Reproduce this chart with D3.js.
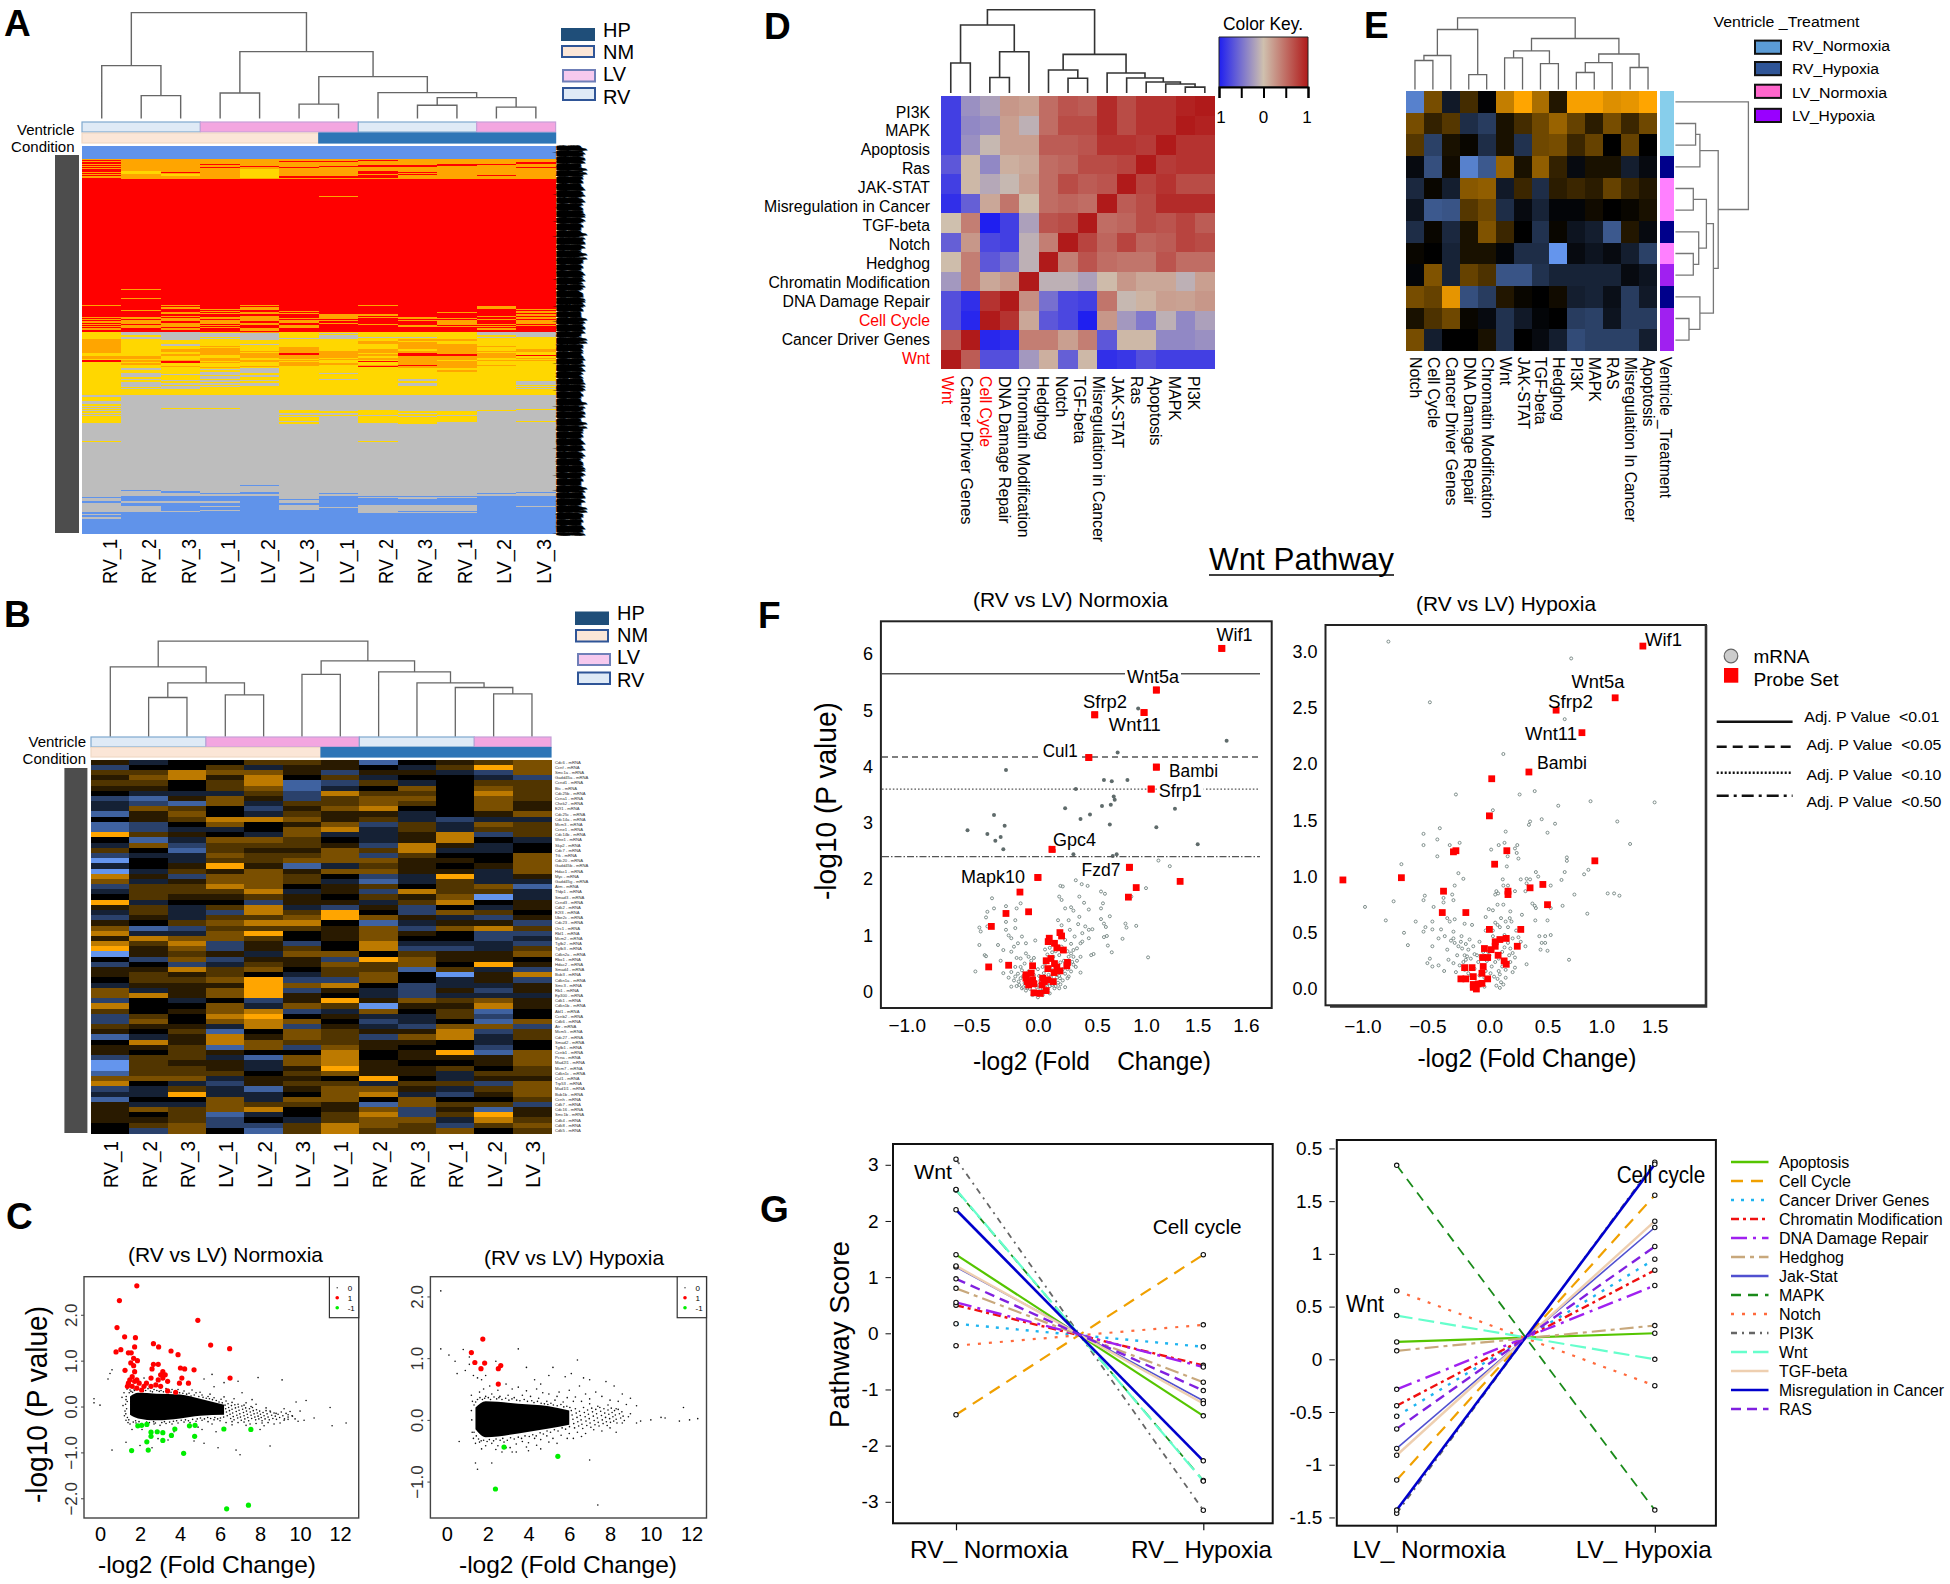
<!DOCTYPE html>
<html><head><meta charset="utf-8">
<style>html,body{margin:0;background:#fff}svg{display:block}text{font-family:"Liberation Sans",Arial,sans-serif;white-space:pre}</style>
<script src="https://cdn.jsdelivr.net/npm/d3@7/dist/d3.min.js"></script></head><body>
<script>
/* ---------- DATA ---------- */
const samples=["RV_1","RV_2","RV_3","LV_1","LV_2","LV_3","LV_1","RV_2","RV_3","RV_1","LV_2","LV_3"];
const ventricleRuns=[["RV",3],["LV",4],["RV",3],["LV",2]];
const conditionRuns=[["NM",6],["HP",6]];
const treeA=[106,[53,0,[23,1,2]],[67,[25.6,3,4],[42,[14.5,5,6],[26,7,[21,[13.4,8,9],[11.5,10,11]]]]]];
const treeB=[95.7,[70,0,[54,[39.3,1,2],[42,3,4]]],[76,[62.5,5,6],[65,7,[54,8,[49.3,9,[43,10,11]]]]]];
/* panel A rows: [repeat, class per sample] B blue G grey Y yellow O orange R red */
const rowsA=[[11,"BBBBBBBBBBBB"],
[1,"OOOOOOOOOOOO"],[1,"ROOOOOOROOOO"],[1,"OOOOORROOOOO"],[1,"ROOOOOOOOOOR"],[1,"OOOROOOOORRO"],[1,"ROOOOOORRROO"],[1,"OOOORORRROOO"],[1,"ROOROROOOOOR"],[1,"OOOOOOOOOOOO"],[1,"ROOOYOOOOOOO"],[1,"RYOOYOOROOOO"],[1,"OYROYOORROOO"],[1,"RYOOYOOROOOO"],[1,"OOYOYOOOROOO"],[1,"ROYOYOOROORO"],[1,"OOOOYRRROOOO"],[1,"ROOOOOOOOOOO"],
[15,"RRRRRRRRRRRR"],[1,"RRRRRRORRRRR"],[78,"RRRRRRRRRRRR"],[1,"RORRRRRRRRRR"],[7,"RRRRRRRRRRRR"],[1,"RORRRRRRRRRR"],[5,"RRRRRRRRRRRR"],
[1,"ORORORRORRRR"],[1,"RRRRRRRRRROR"],[1,"RRORORRRRROR"],[1,"RRROORRRRRRO"],[1,"RORRRRRRRRRR"],[1,"RRRORORRRRRO"],[1,"RRORORRRRORO"],[1,"RROOOORRRRRR"],[1,"RRRRRROORRRO"],[1,"RRORORORRROR"],[1,"OOROOROOORRO"],[1,"ROOOOOOROORO"],[1,"ORORORRRRROR"],[1,"ROOOOOOROORO"],[1,"OORORORRRORO"],[1,"ROOOORORRORO"],[1,"ORORORROROOR"],[1,"ROOORORRORRO"],[1,"OOORRORROOOR"],[1,"RORORORRRRRR"],[1,"ORORORRRRROR"],[1,"RRRRORRRRRRR"],[1,"RRRRRRRRRRRR"],
[1,"YGGYOYYYYYGG"],[1,"YGGGGYGYYYGG"],[1,"YGGGGYYYYYGG"],[1,"YYGGGYGYYYYG"],[1,"YGGYGYGGGYGY"],[1,"YGGGGGGYYYYY"],[1,"OYGYGYYYOOYY"],[1,"OYYYYYYYOOYY"],[1,"OYYYYYYOYYYY"],[1,"OYYYYYYOOYYY"],[1,"OYGYGYYYOOYY"],[1,"OYGYYYYYOOYY"],[1,"OYYOYYYYOOOY"],[1,"OYYYYOYYOOYY"],[1,"OYYOYOYYOOYY"],[1,"OYOOYOYOYOYO"],[1,"OYOOOOOOOOOO"],[1,"OYYOYOOOOOYY"],[1,"YYYOOROYROOY"],[1,"YYOOOROORROY"],[1,"YYOYOOOORROR"],[1,"OOYYOOOYOOOY"],[1,"OOYOYOYOOOYO"],[1,"YYYOYYOOOOYY"],[1,"ROOOOOYYOYOO"],[1,"RORYOYYROOYY"],[1,"YYROYOYYOOYY"],[1,"YOYYYOOYOOYY"],[1,"YYYYYOYOROOY"],[1,"YYOYOYYROOYY"],[1,"YYYOYYYYOOYY"],[1,"YGYYGYYYYYYY"],[1,"YGYGGYYYYYYY"],
[1,"YYYYGYYYYOYY"],[1,"YYYGGYYYYYYY"],[1,"YGYGYYGYYYYY"],[1,"YGGGYYYYYYYY"],[1,"YGYYGYYYYYYY"],[1,"YGYGGYYYYYYY"],[1,"YYYGYYYYYYYY"],[1,"YGYYYYGYGYYY"],[1,"YYGGGYYYGYYY"],[1,"YYYGYYYYYYYG"],[1,"YGYYYYYYYYYG"],[1,"YGGGGYYYGYYG"],[1,"YGYYGYYYGYYY"],[1,"YGGGYYYYYYYG"],[1,"YYGYYYYYYYYY"],[1,"YGGYYYYYYYYG"],[5,"YYYYYYYYYYYY"],
[2,"GGGGGGGGGGGG"],[3,"YGGGGGGGGGGG"],[3,"GGGGGGGGGGGG"],[1,"YGGGGGGGGGGG"],[1,"GGGGGGGGGGGG"],[1,"YGGGGGGGGGGG"],[1,"GGYYGGGGGGGG"],[1,"YGGGGGGGGGGY"],[1,"GGGGGYGYGGYG"],[1,"YGGGGYYYYYGG"],[1,"GGGGGGGYGYGG"],[1,"YGGGGGGYYYGG"],[1,"GGGGGYYGYGGG"],[1,"YGGGGGGYGYGG"],[1,"YGGGGYGYYYGG"],[2,"YGGGGYGYYYGG"],[1,"YGGGGGGYYYGY"],[1,"YGGGGYGYYGGG"],[1,"GGGGGYGGYGGG"],[3,"GGGGGGGGGGGG"],
[11,"GGGGGGGGGGGG"],[1,"YGGGGGGYGGGG"],[37,"GGGGGGGGGGGG"],[1,"GGGGBGGGGGGG"],[3,"GGGGGGGGGGGG"],[1,"GBGGGGGGGGGG"],[1,"GGBGGGGGGGGG"],[1,"GGBGBGGGGGGB"],[1,"GGGBBGBGGGBG"],
[1,"GGGGGGGGGGGG"],[1,"GBBBBGBBBBBB"],[1,"BBBBBGBGGGBB"],[1,"GBBBBGBBGBBB"],[1,"GBBBBBBBBBBB"],[1,"GBBBBGBBBBBB"],[1,"BGGGBGBBBBBB"],[2,"GBBBBBBBBBBB"],[1,"GBBBBGBGGGBB"],[1,"GGBGBGBGGGBG"],[1,"GGBBBGGGGGBB"],[1,"GGBBBGBGGGBB"],[1,"GGBGBBBGGGBB"],[1,"GGGBBBBGBBBB"],[1,"BBBBBBBGGGBB"],[1,"BBBBBBBBBBBB"],[1,"GBBBBBBBBBBB"],[1,"BBBBBBBBBBBB"],[1,"GBBBBBBBBBBB"],[1,"GBBBBBBBBBBB"],[12,"BBBBBBBBBBBB"]];
const classColors={B:"#6093ea",G:"#bdbdbd",Y:"#ffd700",O:"#ffa500",R:"#ff0000"};
/* panel B: expression level of each gene per sample, 0 = lowest, 4 = mid, 9 = highest */
const expressionB=["534466514567","244635543697","668775255327","578584634432","664681263466","554671347476","433362866486","215752677476","321736676475","376425784475","157436553457","456887563233","124745726376","123347836366","965437335826","413776435843","372666528534","641655768334","233766726447","043667775547","345951365457","036575775537","852776423935","735776313633","266874564671","366683528663","465565465703","934425536845","563683252435","363286942764","253667975325","546788413552","712666572786","833794575422","587764574423","868252483332","957256482236","056537746557","427255297554","242365767495","558674661632","565643674058","466792274352","355597842335","735792532525","785795432333","243425957675","844737605585","645782374614","264894533624","274787423417","655382532772","546147655826","135857627836","485876655434","556172754424","546544845917","266317845557","065537854457","066535955646","166646755366","777355494355","843256636627","236315775367","339334783257","144737747446","533766517662","576784572515","546134682695","556243677386","467226876267","427416866746"];
const genesB=["Cdc6","Ccnf","Smc1a","Gadd45a","Ccnd1","Btc","Cdc25b","Ccna1","Chek2","E2f1","Cdc25c","Cdc14a","Mcm3","Ccne1","Cdc14b","Wee1","Skp2","Cdc7","Ttk","Cdc20","Gadd45b","Hdac1","Myc","Gadd45g","Atm","Tfdp1","Smad3","Ccnd3","Cdk2","E2f3","Ube2c","Cdc23","Orc1","Rbl1","Mcm2","Tgfb2","Tgfb3","Cdkn2a","Rbx1","Hdac2","Smad4","Bub3","Cdkn1a","Smc3","Rb1","Ep300","Cdk1","Cdkn1b","Abl1","Ccnb2","Cdk6","Atr","Mcm5","Cdc27","Smad2","Tgfb1","Ccnb1","Pcna","Mad2l1","Mcm7","Cdkn1c","Cul1","Trp53","Mad1l1","Bub1b","Ccnh","Cdk7","Cdc16","Smc1b","Cdk4","Cdk8","Cdk5"];
const orderD=["Wnt","Cancer Driver Genes","Cell Cycle","DNA Damage Repair","Chromatin Modification","Hedghog","Notch","TGF-beta","Misregulation in Cancer","JAK-STAT","Ras","Apoptosis","MAPK","PI3K"];
const rowsD=["PI3K","MAPK","Apoptosis","Ras","JAK-STAT","Misregulation in Cancer","TGF-beta","Notch","Hedghog","Chromatin Modification","DNA Damage Repair","Cell Cycle","Cancer Driver Genes","Wnt"];
const corrD=[[-.8,-.3,-.2,.25,.2,.5,.65,.6,.9,.7,.85,.85,.95,1],[-.8,-.35,-.3,.2,-.1,.5,.7,.7,.9,.7,.85,.85,1,.95],[-.8,-.3,-.05,.2,.2,.6,.6,.65,.85,.85,.8,1,.85,.85],[-.65,.05,-.35,.1,.15,.5,.55,.7,.7,.75,1,.8,.85,.85],[-.8,.05,-.15,-.05,.2,.5,.7,.6,.65,1,.75,.85,.7,.7],[-.9,-.6,.15,.45,.02,.5,.55,.5,1,.6,.7,.9,.9,.9],[0,.4,-1,-.8,-.2,.65,.7,1,.5,.55,.7,.65,.75,.6],[-.6,.25,-.75,-.8,-.1,.4,1,.75,.55,.75,.55,.6,.75,.7],[.02,.4,-.65,-.5,-.1,1,.4,.65,.5,.45,.45,.65,.5,.5],[-.25,.4,.15,.25,1,-.1,-.1,-.2,.03,.25,.15,.15,-.1,.2],[-.7,-.9,.85,1,.3,-.5,-.75,-.8,.45,-.05,.08,.2,.18,.25],[-.7,-.95,1,.85,.15,-.65,-.75,-1,.25,-.25,-.45,-.1,-.35,-.2],[.6,1,-.95,-.9,.4,.4,.2,.4,-.65,.05,.05,-.35,-.35,-.3],[1,.6,-.7,-.7,-.25,.1,-.6,.05,-.9,-.85,-.7,-.8,-.8,-.8]];
const treeD=[83.3,[68,[30,0,1],[41.3,[15.5,2,3],4]],[38.6,[23,5,[14.8,6,7]],[20,8,[15,9,[11,10,[9,11,[5.9,12,13]]]]]]];
const colsE=["Notch","Cell Cycle","Cancer Driver Genes","DNA Damage Repair","Chromatin Modification","Wnt","JAK-STAT","TGF-beta","Hedghog","PI3K","MAPK","RAS","Misregulation In Cancer","Apoptosis"];
const scoreE=[[-2.6,1.4,-.5,.8,-.05,2.3,3,2,.4,2.9,2.9,2.6,2.7,3],[1.4,.6,1,-.9,-1.2,.3,.8,1.3,1.8,1.2,.5,1.4,.7,1.3],[1,-1.3,.3,.1,-.9,.3,-1,1.3,1.4,.7,1.2,0,1.2,0],[-.2,-1.6,.2,-2.6,-1.8,1.8,.3,1.7,.6,-.2,.3,.3,-.6,-.2],[-.8,.1,-.6,1.6,1.7,-.5,.7,-.9,.5,.7,.5,1.2,.7,.4],[-.4,-1.8,-1.7,1,1.3,-.9,-.2,-.7,-.1,-.1,.2,0,.1,.3],[-.9,.1,-.8,.3,1.5,.7,0,-1,.1,-.4,-.6,-1.8,.4,-.2],[.1,0,-.7,.3,.3,-.1,-.9,-.9,-3,-.2,-.4,-.2,-.6,-1.3],[-.1,1.5,-.7,1.2,.9,-1.7,-1.7,-1,-.7,-.7,-.7,-.7,-.2,-.4],[1.4,1.2,2.7,-1.6,-1.2,.4,.1,0,.2,-.6,-.7,-.3,-1.2,-.5],[.3,.9,1.3,.1,-.2,-1,-.5,-.1,0,-1.2,-1.3,-.4,-1.2,-1.2],[1.4,-.6,0,0,.3,-1,0,-.2,-.6,-1.5,-1.3,-1.3,-1.3,-.6]];
const treatmentE=["RV_Normoxia","RV_Normoxia","RV_Normoxia","RV_Hypoxia","LV_Normoxia","LV_Normoxia","RV_Hypoxia","LV_Normoxia","LV_Hypoxia","RV_Hypoxia","LV_Hypoxia","LV_Hypoxia"];
const treatmentOrder=["RV_Normoxia","RV_Hypoxia","LV_Normoxia","LV_Hypoxia"];
const treeEcol=[71.6,[60,[34,[29,0,1],2],[14.8,3,4]],[51,[38.6,[31.7,5,6],[25.8,7,8]],[35.5,[26.9,[17,9,10],11],[22,12,13]]]];
const treeErow=[73,0,[42.8,[24.5,[20.2,1,2],3],[38,[31,[17.9,4,5],[23.3,6,[17.9,7,8]]],[24.5,9,[13.6,10,11]]]]];
/* panel C */
const coreC1X=[1.5,1.9,2.8,4,5,6.2], coreC1Hi=[.22,.3,.28,.26,.17,.04], coreC1Lo=[-.18,-.26,-.3,-.26,-.2,-.18];
const coreC2X=[1.4,1.9,3.5,5,6], coreC2Hi=[.2,.3,.26,.22,.15], coreC2Lo=[-.15,-.28,-.22,-.14,-.08];
const c1Sparse=[[-.3,.17],[-.3,.08],[0,.03],[.4,.6],[.5,.72],[.6,.8],[1.2,.3],[1.3,.15],[1.25,-.1],[1.3,-.3],[1.4,-.35],[1.35,.38],[1.5,.36],[1.1,.2],[1.15,.02],[1.22,-.2],[1.7,.38],[1.9,.41],[2.1,.36],[2.4,.39],[2.7,.37],[3.05,.35],[3.3,.39],[3.6,.37],[3.9,.37],[4.2,.34],[4.45,.29],[4.8,.3],[5.1,.25],[5.4,.22],[5.7,.19],[6.05,.16],[6.3,.12],[6.6,.09],[6.9,.05],[7.2,.03],[7.55,0],[4.6,.36],[5,.31],[5.5,.27],[6.2,.21],[6.7,.17],[7.3,.08],[7.8,.05],[8.3,-.03],[1.5,-.38],[1.8,-.36],[2.1,-.37],[2.4,-.4],[2.7,-.38],[3,-.41],[3.3,-.37],[3.6,-.38],[3.9,-.36],[4.2,-.34],[4.5,-.35],[4.8,-.32],[5.1,-.3],[5.4,-.33],[5.7,-.29],[6,-.31],[6.3,-.35],[6.6,-.33],[6.9,-.35],[7.2,-.34],[7.5,-.38],[7.8,-.37],[8.1,-.36],[8.4,-.35],[8.7,-.38],[9,-.36],[9.2,-.3],[8.2,-.42],[7.3,-.41],[6.6,-.4],[5.6,-.38],[2.2,.62],[5.6,.7],[6.9,.55],[7.9,.63],[9.1,.58],[5.2,.6],[6.2,.52],[5.7,.43],[7.1,.3],[7.6,.15],[8.5,-.1],[8.8,-.15],[9.2,-.05],[9.4,-.18],[9.6,-.2],[10,-.1],[9.8,.1],[10.3,.13],[11.5,-.02],[10.7,-.25],[11.6,-.42],[12.3,-.36],[10.2,-.3],[9.9,-.32],[9.4,-.28],[.6,-.95],[1.3,-.78],[2,-.85],[2.6,-.9],[3.4,-.73],[5.9,-.9],[6.8,-.95],[7,-1.05],[8.5,-.86],[4.7,-.75],[5.2,-.8],[2.9,-.7],[3.7,-.55],[5.1,-.5],[5.8,-.55],[2.1,-.5],[1.6,-.5],[4.9,-.45],[8,-.5],
[1.31,.22],[1.36,.11],[1.28,.05],[1.33,-.05],[1.29,-.16],[1.37,-.24],[1.44,-.29],[1.46,.3],[1.55,.33],[1.63,.31],[1.72,.35],[1.78,-.31],[1.66,-.34],[1.95,-.33],[2.04,.37],[2.16,.33],[2.28,.35],[2.33,-.34],[2.47,-.35],[2.52,.34],[2.62,.32],[2.68,-.33],[2.77,-.36],[2.84,.35],[2.96,.33],[3.09,-.35],[3.17,.32],[3.22,-.33],[3.41,.33],[3.48,-.34],[3.55,.31],[3.67,-.32],[3.74,.33],[3.83,-.31],[3.98,.3],[4.06,-.3],[4.14,.29],[4.27,-.29],[4.33,.27],[4.42,-.31],[4.55,.23],[4.63,-.28],[4.71,.25],[4.86,-.27],[4.94,.22],[5.02,-.25],[5.15,.2],[5.22,-.27],[5.31,.18],[5.38,-.24],[5.47,.17],[5.53,-.26],[5.62,.15],[5.74,-.24],[5.81,.13],[5.88,-.27],[5.95,.1],[6.02,-.25],[6.11,.08],[6.18,-.23],
[6.25,.03],[6.28,-.05],[6.32,-.12],[6.36,-.2],[6.4,.06],[6.43,-.02],[6.47,-.09],[6.5,-.17],[6.53,-.26],[6.57,.02],[6.6,-.06],[6.63,-.14],[6.66,-.22],[6.7,-.29],[6.74,.04],[6.77,-.03],[6.81,-.11],[6.84,-.19],[6.88,-.25],[6.92,-.01],[6.95,-.08],[6.99,-.16],[7.02,-.23],[7.06,-.3],[7.09,.01],[7.13,-.06],[7.17,-.13],[7.2,-.2],[7.24,-.27],[7.28,-.03],[7.32,-.1],[7.36,-.17],[7.39,-.24],[7.43,-.31],[7.47,-.05],[7.51,-.12],[7.55,-.19],[7.58,-.26],[7.62,-.02],[7.66,-.09],[7.7,-.16],[7.74,-.23],[7.78,-.29],[7.82,-.07],[7.86,-.14],[7.9,-.21],[7.94,-.27],[7.98,-.1],[8.02,-.17],[8.06,-.24],[8.1,-.31],[8.15,-.13],[8.2,-.2],[8.25,-.27],[8.3,-.09],[8.35,-.16],[8.4,-.23],[8.46,-.29],[8.52,-.12],[8.58,-.19],[8.64,-.26],[8.7,-.14],[8.76,-.21],[8.82,-.28],[8.9,-.17],[8.98,-.24],[9.06,-.12],[9.14,-.2],[9.22,-.27],[9.3,-.15],[9.4,-.23],[9.5,-.11],[9.62,-.21],[9.75,-.27]];
const c2Sparse=[[-.3,2.09],[-.3,1.15],[.1,1.05],[.4,.95],[.5,.75],[.8,1.14],[.9,.8],[1.1,.9],[1.3,.72],[1.1,1.02],[1.5,.68],[1.7,.65],[1.9,.72],[2.4,.95],[3.5,1.15],[3.9,.85],[6.4,.97],[5.2,.85],[5,.72],[5.8,.7],[6.1,.75],[6.7,.68],[7,.65],[7.8,.62],[8.2,.55],[8.6,.42],[9,.35],[9.3,.23],[4.3,.65],[4.6,.58],[6.5,.55],[6,.48],[5.5,.45],[6.8,.42],[7.3,.45],[7.6,.38],[8,.32],[8.4,.3],[8.8,.25],[8.3,.18],[7.9,.24],[1.2,.4],[1.25,.3],[1.2,.15],[1.22,0],[1.24,-.2],[1.3,-.3],[1.4,-.38],[1.6,.45],[1.9,.38],[2.2,.42],[2.6,.38],[3,.4],[3.3,.36],[3.7,.4],[4.1,.38],[4.5,.35],[4.9,.3],[5.3,.32],[5.7,.29],[6.2,.3],[6.6,.3],[7,.26],[7.4,.22],[1.6,-.36],[1.9,-.42],[2.2,-.38],[2.5,-.42],[2.8,-.36],[3.1,-.45],[3.4,-.39],[3.7,-.35],[4,-.37],[4.3,-.3],[4.6,-.32],[4.9,-.26],[5.2,-.3],[5.6,-.25],[6,-.22],[6.4,-.2],[6.8,-.22],[7.2,-.16],[7.6,-.18],[8,-.13],[8.3,-.2],[8.6,-.05],[8.9,.05],[9,.1],[9.5,-.02],[10,0],[10.5,.04],[10.7,.03],[11.4,-.02],[11.6,.2],[11.9,0],[12.3,.02],[9.3,-.05],[.6,-.35],[1.4,-.7],[1.5,-.8],[2.2,-.7],[7,-.65],[7.4,-1.38],[4,-.5],[2.9,-.45],[3.4,-.52],[4.6,-.47],[6.2,-.3],[5.4,-.38],[2.7,-.52],
[1.33,.24],[1.41,.29],[1.5,.33],[1.62,.36],[1.74,.33],[1.85,.35],[2.03,.36],[2.14,.33],[2.31,.37],[2.44,.34],[2.55,.36],[2.7,.33],[2.88,.35],[3.04,.32],[3.19,.34],[3.42,.32],[3.58,.31],[3.79,.33],[3.95,.3],[4.16,.31],[4.27,.28],[4.44,.3],[4.62,.27],[4.78,.26],[4.95,.25],[5.1,.27],[5.22,.24],[5.41,.23],[5.59,.25],[5.73,.21],[5.88,.22],[6.03,.2],
[1.33,-.2],[1.44,-.26],[1.55,-.31],[1.68,-.34],[1.8,-.33],[1.97,-.35],[2.08,-.32],[2.29,-.34],[2.41,-.31],[2.61,-.33],[2.74,-.3],[2.96,-.33],[3.12,-.29],[3.3,-.31],[3.5,-.28],[3.66,-.3],[3.83,-.26],[4.04,-.27],[4.21,-.24],[4.38,-.26],[4.57,-.21],[4.73,-.23],[4.91,-.18],[5.08,-.2],[5.27,-.16],[5.45,-.18],[5.65,-.13],[5.82,-.15],[6.01,-.11],
[6.1,.15],[6.14,.08],[6.18,.01],[6.22,-.06],[6.26,-.13],[6.3,.18],[6.34,.11],[6.38,.04],[6.42,-.03],[6.46,-.1],[6.5,.14],[6.54,.07],[6.58,0],[6.62,-.07],[6.66,-.14],[6.7,.2],[6.74,.12],[6.78,.05],[6.82,-.02],[6.86,-.09],[6.9,.16],[6.94,.09],[6.98,.02],[7.02,-.05],[7.06,-.12],[7.1,.19],[7.14,.13],[7.18,.06],[7.22,-.01],[7.26,-.08],[7.3,.17],[7.34,.1],[7.38,.03],[7.42,-.04],[7.46,-.1],[7.5,.2],[7.54,.14],[7.58,.07],[7.62,0],[7.66,-.06],[7.7,.18],[7.74,.11],[7.78,.04],[7.82,-.03],[7.86,-.09],[7.9,.16],[7.94,.09],[7.98,.02],[8.02,-.04],[8.06,.19],[8.1,.12],[8.14,.05],[8.18,-.02],[8.22,.15],[8.26,.08],[8.3,.01],[8.34,-.05],[8.4,.17],[8.46,.1],[8.52,.03],[8.58,.13],[8.64,.06],[8.7,-.01],
[1.8,.5],[2.5,.48],[3.2,.5],[3.9,.47],[4.7,.44],[5.4,.38],[6.3,.37],[7,.34],[2.1,.55],[2.9,.58],[3.5,.53],[4.4,.5],[5,.42],[5.9,.36],[1.7,-.47],[2.4,-.48],[3.2,-.52],[3.9,-.44],[4.4,-.41],[5,-.36],[5.9,-.3],[6.6,-.27]];
const c1Up=[[1.84,2.63],[.97,2.31],[4.89,1.88],[.85,1.72],[1.23,1.52],[1.77,1.5],[2.67,1.37],[5.53,1.34],[1.73,1.3],[2.93,1.3],[6.48,1.26],[3.55,1.21],[3.9,1.13],[.8,1.19],[1.04,1.24],[1.42,1.17],[1.56,1.17],[1.68,1.05],[1.87,1],[1.54,.95],[1.68,.89],[1.25,.79],[2.67,.92],[2.91,.92],[2.6,.82],[3.14,.76],[4.02,.84],[4.23,.82],[4.7,.8],[3.03,.69],[3.26,.69],[1.73,.76],[1.61,.65],[1.49,.58],[1.42,.51],[1.73,.55],[1.84,.58],[1.96,.51],[2.55,.62],[2.91,.58],[3.14,.62],[3.38,.55],[4.09,.62],[3.97,.51],[4.42,.51],[6.5,.62],[1.37,.44],[1.61,.44],[1.84,.4],[2.32,.51],[2.55,.44],[2.79,.47],[2.2,.44],[2.08,.36],[3.38,.34],[3.78,.31],[3.03,.44]];
const c1Down=[[1.89,-.42],[2.08,-.41],[2.34,-.39],[2.55,-.56],[2.86,-.55],[3.14,-.57],[2.55,-.65],[2.34,-.77],[3.14,-.74],[3.57,-.63],[3.74,-.49],[4.47,-.42],[4.75,-.41],[4.73,-.65],[6.19,-.49],[7.54,-.5],[1.58,-.96],[2.41,-.95],[4.18,-1.02],[6.33,-2.23],[7.42,-2.15]];
const c2Up=[[1.76,1.31],[1.2,1.09],[1.37,.93],[1.85,.92],[1.67,.83],[2.52,.83],[2.64,.88],[2.52,.58]];
const c2Down=[[2.8,-.44],[5.44,-.59],[2.38,-1.12]];
/* panel F */
const adjLevels=[5.65,4.17,3.6,2.4], adjLabels=["<0.01","<0.05","<0.10","<0.50"];
const f1Probe=[[1.55,6.1],[1.1,5.36],[.98,4.96],[.48,4.92],[.43,4.16],[1.1,3.99],[1.05,3.6],[.12,2.53],[.83,2.21],[0,2.03],[-.135,1.77],[.9,1.85],[1.33,1.96],[.82,1.68],[-.24,1.39],[-.07,1.42],[-.35,1.16],[-.37,.44],[-.22,.47],[-.04,.46],[.096,.95],[.087,.89],[.186,1.05],[.2,.99],[.14,.86],[.16,.78],[.215,.74],[.11,.59],[.07,.55],[.084,.41],[.14,.5],[.16,.44],[.186,.37],[.137,.34],[.25,.52],[.244,.46],[-.09,.3],[-.05,.33],[-.09,.24],[-.08,.18],[-.04,.21],[-.07,.12],[-.03,.14],[.04,.24],[.055,.18],[.084,.21],[.13,.18],[.035,.12],[-.03,-.02],[.02,-.03],[.07,.02]];
const f1Sig=[[.92,5.03],[1.56,4.46],[.71,4.25],[-.24,3.94],[.57,3.76],[.65,3.74],[.81,3.76],[.32,3.6],[.23,3.26],[.67,3.47],[.68,3.41],[.55,3.3],[.64,3.32],[.44,3.15],[.36,3.07],[1.28,3.25],[-.33,3.14],[-.25,2.95],[.63,2.97],[1.1,2.92],[-.53,2.87],[-.38,2.8],[-.28,2.75],[-.32,2.68],[-.26,2.53],[1.5,2.62],[.3,2.44],[.7,2.44],[.66,2.41]];
const f1mRNA=[[1.12,2.33],[1.23,2.23],[1,1.84],[.85,1.69],[.19,1.88],[.21,1.87],[.32,1.98],[.37,1.91],[.42,1.88],[.54,1.78],[.58,1.74],[.18,1.69],[.2,1.63],[.35,1.69],[.39,1.58],[.56,1.57],[.54,1.48],[.23,1.48],[.28,1.5],[.3,1.44],[.35,1.33],[.43,1.46],[.63,1.34],[.54,1.29],[.57,1.21],[.59,1.15],[.79,1.21],[.8,1.14],[.9,1.17],[.46,1.11],[.43,1.1],[.6,.99],[.57,.97],[.76,.94],[.61,.82],[.65,.7],[1.02,.61],[.45,.65],[.47,.67],[.375,1.04],[.4,1.16],[.43,.95],[.36,.86],[.375,.89],[.3,.74],[.33,.77],[.36,.62],[.32,.44],[.36,.34],[.26,.27],[.23,.08],[.186,.24],[.17,1.27],[.2,1.18],[.26,1.27],[.27,1.1],[.23,.92],[.26,.62],[.29,.53],[.31,.98],[.34,1.2],[.28,.85],[.33,.55],[.3,.62],[.2,.35],[.22,.55],[.18,.65],[.25,.4],[.12,.7],[.06,.75],
[-.345,1.66],[-.24,1.52],[-.33,1.48],[-.38,1.42],[-.13,1.57],[-.16,1.48],[-.39,1.32],[-.24,1.24],[-.17,1.27],[-.44,1.14],[-.38,1.16],[-.43,1.07],[-.24,1.1],[-.17,1.13],[-.2,.95],[-.12,.98],[-.02,.91],[-.44,.83],[-.3,.83],[-.15,.86],[-.09,.86],[-.26,.74],[-.2,.71],[-.4,.65],[-.39,.63],[-.09,.68],[-.47,.36],[-.26,.33],[-.17,.44],[-.13,.59],[-.07,.62],[-.17,.27],[-.2,.09],[-.145,.18],[-.12,.06],[-.09,.02],[0,-.1],[-.04,-.06],[.04,-.06],[.1,-.03],[.14,.06],[-.22,1],[-.18,.8],[-.28,.55],[-.16,.6],[-.12,.38],[-.11,.28],[-.14,.12],[-.07,.36],[-.03,.3],[0,.4],[.02,.05],[.05,.33],[.09,.3],[.12,.12],[.16,.25],[.19,.13],[-.02,.18],[.06,.08],[.1,.43],[.13,.62],[.17,.16],[.21,.2],[-.1,.5],[-.05,.55],[.01,.28],
[-.13,.24],[-.1,.15],[-.11,.08],[-.08,.07],[-.06,.05],[-.05,.27],[-.01,.08],[.01,.12],[.03,.01],[.05,.02],[.08,.04],[.1,.1],[.11,.26],[.12,.38],[.15,.33],[.18,.28],[.17,.42],[.19,.52],[.21,.4],[.23,.32],[.25,.24],[.15,.1],[.18,.06],[.08,.14],[.02,.2],[.04,.44],[.06,.5],[-.15,.32],[-.18,.2],[-.16,.1],[-.2,.35],[-.22,.25],[-.13,.44],[-.03,.6],[.08,.66],[.1,.78],[.15,.72],[.2,.8],[.25,.72],[.28,.68],[.3,.48],[.28,.36]];
const f2Probe=[[1.39,3.05],[1.13,2.59],[.58,2.48],[.82,2.28],[.34,1.93],[.02,1.87],[0,1.54],[.15,1.23],[-.27,1.23],[-.29,1.22],[.045,1.11],[.94,1.14],[-1.15,.97],[-.7,.99],[-.37,.87],[.46,.93],[.35,.9],[.16,.87],[.16,.84],[.5,.75],[-.38,.68],[-.19,.68],[0,.53],[.27,.53],[.145,.45],[.09,.44],[.05,.42],[.24,.38],[-.04,.36],[.015,.35],[.05,.38],[.075,.3],[-.055,.28],[-.014,.28],[.127,.25],[.145,.22],[-.2,.19],[-.14,.19],[-.05,.2],[-.06,.14],[-.13,.11],[-.014,.09],[-.23,.09],[-.19,.09],[-.13,.04],[-.09,.045],[-.06,.05],[-.105,0],[-.13,.015]];
const f2mRNA=[[-.8,3.09],[.72,2.94],[-.48,2.55],[.66,2.4],[.12,2.09],[-.27,1.73],[.26,1.73],[.39,1.76],[.9,1.67],[1.5,1.66],[.6,1.63],[.03,1.59],[.45,1.51],[1.15,1.49],[.57,1.47],[.35,1.49],[.34,1.46],[-.4,1.43],[.14,1.4],[.5,1.39],[-.53,1.38],[-.42,1.33],[-.24,1.3],[-.53,1.28],[-.32,1.28],[1.27,1.29],[.08,1.28],[.13,1.3],[.24,1.28],[.22,1.25],[.235,1.21],[.015,1.24],[.157,1.18],[.25,1.16],[.15,1.09],[-.42,1.18],[-.7,1.11],[.68,1.17],[.68,1.14],[.88,1.06],[.84,1.02],[.66,1.04],[.4,1.04],[.42,1],[-.25,1.03],[-.21,.98],[.115,.975],[.27,.975],[.32,.98],[.35,.975],[.63,.97],[.32,.94],[.12,.92],[.16,.92],[.53,.92],[-.28,.92],[.06,.87],[.075,.85],[.05,.84],[.22,.87],[.31,.87],[.75,.84],[1.06,.85],[1.12,.85],[1.17,.83],[-.52,.83],[-.53,.79],[-.3,.84],[-.37,.81],[-.29,.79],[-.76,.78],[-.37,.77],[-.98,.73],[-.45,.73],[.07,.75],[.12,.75],[.37,.76],[.39,.74],[.4,.72],[.53,.72],[.64,.74],[.87,.67],[-.005,.71],[.03,.7],[.18,.69],[.28,.66],[.395,.61],[.5,.61],[-.82,.61],[-.59,.6],[-.46,.6],[-.34,.63],[-.32,.6],[-.28,.62],[-.2,.58],[-.03,.64],[.05,.59],[.175,.63],[-.68,.5],[-.515,.55],[-.53,.51],[-.46,.53],[-.39,.53],[-.29,.51],[-.14,.57],[-.03,.52],[-.65,.39],[-.46,.38],[-.41,.45],[-.36,.47],[-.29,.45],[-.225,.47],[-.16,.44],[-.34,.35],[.43,.47],[.53,.48],[.48,.47],[.45,.41],[.48,.41],[.44,.35],[.5,.34],[.31,.38],[.7,.26],[.32,.22],[.22,.19],[-.48,.27],[-.5,.23],[-.46,.2],[-.41,.21],[-.365,.16],[-.33,.26],[-.29,.23],[-.26,.3],[-.22,.36],[-.17,.35],[-.19,.26],[-.24,.21],[-.27,.15],[-.1,.3],[-.13,.38],[-.08,.42],[-.03,.16],[.02,.2],[.08,.16],[.11,.2],[.17,.3],[.2,.45],[.13,.48],[.09,.55],[.03,.47],[-.01,.33],[.14,.1],[.1,.06],[.06,.03],[-.04,.02],[.2,.15],[-.2,.3],[-.15,.12],
[-.18,.29],[-.21,.24],[-.15,.27],[-.12,.31],[-.09,.24],[-.07,.28],[-.05,.33],[-.02,.25],[0,.3],[-.2,.17],[-.17,.14],[-.12,.18],[-.08,.12],[-.04,.1],[.01,.14],[.04,.11],[.07,.09],[.09,.13],[.05,.24],[.08,.27],[.11,.33],[.13,.37],[.16,.41],[.18,.36],[.2,.32],[.22,.28],[.18,.24],[.14,.17],[.12,.04],[.09,.01],[-.25,.38],[-.28,.41],[-.31,.43],[-.23,.42],[-.19,.4],[.03,.52],[.07,.57],[.1,.63],[.14,.6],[.16,.55],[.19,.6],[.23,.52],[.25,.46],[.27,.42]];
/* panel G */
const pathways=["Apoptosis","Cell Cycle","Cancer Driver Genes","Chromatin Modification","DNA Damage Repair","Hedghog","Jak-Stat","MAPK","Notch","PI3K","Wnt","TGF-beta","Misregulation in Cancer","RAS"];
const rvNormoxia=[1.4,-1.45,.17,.5,.55,.8,1.18,2.55,-.22,3.1,2.56,1.2,2.2,.97];
const rvHypoxia=[-1.47,1.4,-.24,-.57,-.6,-.87,-1.2,-2.62,.15,-3.15,-2.63,-1.25,-2.27,-1.02];
const lvNormoxia=[.165,-1.145,-.54,-.44,-.285,.08,-.845,1.84,.65,-1.46,.415,-.91,-1.43,-.66];
const lvHypoxia=[.247,1.556,.95,.845,.7,.32,1.25,-1.43,-.25,1.87,0,1.31,1.85,1.07];
const lineColors=["#55c500","#f0a000","#1eb4f0","#f01010","#a020f0","#c8a87c","#5050d0","#1a8a1a","#ff6a3c","#666666","#66ffcc","#eecfb0","#0000cc","#8020e0"];
const lineDashes=["","12 8","3 7","8 4 3 4","16 6 3 6","14 5 4 5","","10 7","3 8","6 5 2 5","16 6","","","10 6"];
const lineWidths=[2.2,2.2,2.4,2.4,2.4,2.2,1.6,1.8,2.2,1.8,2.2,2.4,2.6,2.4];

/* ---------- HELPERS ---------- */
const svg=d3.select("body").append("svg").attr("width",1950).attr("height",1584);
function T(x,y,s,o={}){
  const t=svg.append("text").attr("x",o.rot?0:x).attr("y",o.rot?0:y).text(s)
    .attr("font-size",o.size||16).attr("text-anchor",o.anchor||"start").attr("fill",o.fill||"#000");
  if(o.rot)t.attr("transform",`translate(${x},${y}) rotate(${o.rot})`);
  if(o.weight)t.attr("font-weight",o.weight);
  if(o.w)t.attr("textLength",o.w).attr("lengthAdjust","spacingAndGlyphs");
  return t;
}
function R(x,y,w,h,f,s,sw){return svg.append("rect").attr("x",x).attr("y",y).attr("width",w).attr("height",h).attr("fill",f||"none").attr("stroke",s||"none").attr("stroke-width",sw||1);}
function tree(t,leaf,h,orient,color,sw){
  const g=svg.append("g").attr("fill","none").attr("stroke",color).attr("stroke-width",sw);
  const path=d3.path();
  (function walk(n){
    if(typeof n==="number")return{p:leaf(n),v:0};
    const a=walk(n[1]),b=walk(n[2]),H=h(n[0]);
    if(orient==="top"){path.moveTo(a.p,h(a.v));path.lineTo(a.p,H);path.lineTo(b.p,H);path.lineTo(b.p,h(b.v));}
    else{path.moveTo(h(a.v),a.p);path.lineTo(H,a.p);path.lineTo(H,b.p);path.lineTo(h(b.v),b.p);}
    return{p:(a.p+b.p)/2,v:n[0]};
  })(t);
  g.append("path").attr("d",path.toString());
}
function annot(x,runs,y,h,colors,stroke){
  let i=0;runs.forEach(([k,n])=>{
    const x0=x(i),x1=x(i+n-1)+x.bandwidth();
    R(x0,y,x1-x0,h,colors[k],stroke[k],1.2);i+=n;});
}
function legendBoxes(items,txt){
  items.forEach(d=>{R(d.x,d.y,d.w,d.h,d.f,d.s,2);T(d.tx,d.by,d.t,{size:txt,w:d.tw});});
}
const ventColors={RV:"#dfeaf6",LV:"#f3a6e0",NM:"#fbe6d7",HP:"#2e75b6"},ventStroke={RV:"#7fa8cf",LV:"#c7a0d8",NM:"#f0d9c5",HP:"#2e75b6"};
const expr=d3.scaleLinear().domain([0,1,4,7,9]).range(["#6495ed","#3f62a0","#000000","#7a4f00","#ffa500"]);
const div=d3.scaleLinear().domain([-3,0,3]).range(["#6495ed","#000000","#ffa500"]);
const corr=d3.scaleLinear().domain([-1,0,1]).range(["#1f1ff0","#cfc0ae","#b01a1a"]);

/* ---------- PANEL LABELS ---------- */
[["A",4,36],["B",4,627],["C",6,1229],["D",764,39],["E",1364,38],["F",758,628],["G",760,1222]].forEach(d=>T(d[1],d[2],d[0],{size:37,weight:"bold"}));

/* ---------- PANEL A ---------- */
{
 const x=d3.scaleBand().domain(d3.range(12)).range([82,555.6]);
 const expanded=rowsA.flatMap(([n,s])=>d3.range(n).map(()=>s));
 const y=d3.scaleBand().domain(d3.range(expanded.length)).range([146,533]);
 const g=svg.append("g").attr("shape-rendering","crispEdges");
 expanded.forEach((s,r)=>s.split("").forEach((c,i)=>g.append("rect").attr("x",x(i)).attr("y",y(r)).attr("width",x.bandwidth()+.5).attr("height",y.bandwidth()+.5).attr("fill",classColors[c])));
 tree(treeA,i=>x(i)+x.bandwidth()/2,d3.scaleLinear().domain([0,106]).range([118.6,12.6]),"top","#666",1.4);
 annot(x,ventricleRuns,122,10,ventColors,ventStroke);
 annot(x,conditionRuns,133,10,ventColors,ventStroke);
 R(55,155,24,378,"#4d4d4d");
 T(74.5,135,"Ventricle",{size:15,anchor:"end"});T(74.5,152,"Condition",{size:15,anchor:"end"});
 samples.forEach((s,i)=>T(x(i)+x.bandwidth()/2+15,584,s,{size:21,rot:-90,w:45}));
 legendBoxes([{x:562,y:29,w:32,h:11,f:"#1f4e79",s:"#1f4e79",tx:603,by:37,t:"HP"},{x:562,y:46,w:32,h:11,f:"#fbe6d7",s:"#2f5597",tx:603,by:59,t:"NM"},{x:563,y:70,w:32,h:11.5,f:"#f6c9ee",s:"#6f7fb8",tx:603,by:81,t:"LV"},{x:563,y:88,w:32,h:12,f:"#dfeaf6",s:"#2f5597",tx:603,by:104,t:"RV"}],20);
 const ym=d3.scaleBand().domain(d3.range(expanded.length)).range([146,535]);
 const gl=svg.append("g");
 expanded.forEach((s,r)=>{const lab=genesB[r%genesB.length]+" - mRNA";
   gl.append("text").attr("x",558).attr("y",ym(r)+.95).attr("font-size",.95).attr("fill","#000").attr("stroke","#000").attr("stroke-width",1.05).attr("textLength",lab.length*1.95).attr("lengthAdjust","spacingAndGlyphs").text(lab);});
}
/* ---------- PANEL B ---------- */
{
 const x=d3.scaleBand().domain(d3.range(12)).range([91,551]);
 const y=d3.scaleBand().domain(d3.range(expressionB.length)).range([759.6,1133]);
 const g=svg.append("g").attr("shape-rendering","crispEdges");
 expressionB.forEach((s,r)=>s.split("").forEach((c,i)=>g.append("rect").attr("x",x(i)).attr("y",y(r)).attr("width",x.bandwidth()+.5).attr("height",y.bandwidth()+.5).attr("fill",expr(+c))));
 tree(treeB,i=>110.3+x.step()*i,d3.scaleLinear().domain([0,95.7]).range([736.8,641.1]),"top","#666",1.3);
 annot(x,ventricleRuns,737,10,ventColors,ventStroke);
 annot(x,conditionRuns,747.5,9.5,ventColors,ventStroke);
 R(64.4,768,23,365,"#4d4d4d");
 T(86,747,"Ventricle",{size:15,anchor:"end"});T(86,764,"Condition",{size:15,anchor:"end"});
 genesB.forEach((s,i)=>T(555,y(i)+y.bandwidth()/2+1.5,s+" - mRNA",{size:4.2,fill:"#333"}));
 samples.forEach((s,i)=>T(x(i)+x.bandwidth()/2+8,1188,s,{size:20,rot:-90,w:47}));
 legendBoxes([{x:576,y:612.5,w:32,h:11.5,f:"#1f4e79",s:"#1f4e79",tx:617,by:620,t:"HP"},{x:576,y:630,w:32,h:11.5,f:"#fbe6d7",s:"#2f5597",tx:617,by:642,t:"NM"},{x:578,y:654,w:32,h:11,f:"#f6c9ee",s:"#6f7fb8",tx:617,by:664,t:"LV"},{x:578,y:672.5,w:32,h:11.5,f:"#dfeaf6",s:"#2f5597",tx:617,by:687,t:"RV"}],20);
}
/* ---------- PANEL C ---------- */
function maPlot(o){
 const x=d3.scaleLinear().domain(o.xd).range([o.l,o.r]),y=d3.scaleLinear().domain(o.yd).range([o.b,o.t]);
 const area=d3.area().x(d=>x(d[0])).y0(d=>y(d[2])).y1(d=>y(d[1])).curve(d3.curveMonotoneX);
 svg.append("path").attr("d",area(o.cx.map((v,i)=>[v,o.hi[i],o.lo[i]]))).attr("fill","#000");
 const g=svg.append("g");
 o.sparse.forEach(d=>g.append("circle").attr("cx",x(d[0])).attr("cy",y(d[1])).attr("r",.8).attr("fill","#111"));
 o.up.forEach(d=>g.append("circle").attr("cx",x(d[0])).attr("cy",y(d[1])).attr("r",2.6).attr("fill","#ff0000"));
 o.down.forEach(d=>g.append("circle").attr("cx",x(d[0])).attr("cy",y(d[1])).attr("r",2.6).attr("fill","#00ee00"));
 R(o.l,o.t,o.r-o.l,o.b-o.t,"none","#444",1.4);
 const ax=svg.append("g").attr("transform",`translate(0,${o.b})`).call(d3.axisBottom(x).tickValues([0,2,4,6,8,10,12]).tickSize(0).tickPadding(9).tickFormat(d3.format("d")));
 ax.select(".domain").remove();ax.selectAll("text").attr("font-size",20).attr("font-family",'"Liberation Sans"');
 const ay=svg.append("g").attr("transform",`translate(${o.l},0)`).call(d3.axisLeft(y).tickValues(o.yt).tickSize(3).tickFormat(d3.format(".1f")));
 ay.select(".domain").remove();ay.selectAll("line").attr("stroke","#444");
 ay.selectAll("text").attr("font-size",17).attr("font-family",'"Liberation Sans"').attr("fill","#333").attr("transform","rotate(-90)").attr("x",0).attr("y",-7).attr("dy",0).attr("text-anchor","middle");
 T(o.tx,o.ty,o.title,{size:21,w:o.tw});
 T(o.xx,1573,"-log2 (Fold Change)",{size:24,w:218});
 R(o.r-29.3,o.t,29.3,41,"#fff","#333",1.2);
 ["0","1","-1"].forEach((k,i)=>{
   svg.append("circle").attr("cx",o.r-21.5).attr("cy",o.t+11+10*i).attr("r",i?1.8:.7).attr("fill",i===0?"#333":i===1?"#f00":"#0e0");
   T(o.r-11,o.t+14+10*i,k,{size:8});});
}
maPlot({l:84,r:358.7,t:1276.7,b:1518,xd:[-.8,12.93],yd:[-2.43,2.83],cx:coreC1X,hi:coreC1Hi,lo:coreC1Lo,sparse:c1Sparse,up:c1Up,down:c1Down,yt:[2,1,0,-1,-2],title:"(RV vs LV) Normoxia",tx:128,ty:1262,tw:195,xx:98});
maPlot({l:430.4,r:706.5,t:1276.7,b:1518,xd:[-.81,12.73],yd:[-1.59,2.32],cx:coreC2X,hi:coreC2Hi,lo:coreC2Lo,sparse:c2Sparse,up:c2Up,down:c2Down,yt:[2,1,0,-1],title:"(RV vs LV) Hypoxia",tx:484,ty:1265,tw:180,xx:459});
T(47,1503,"-log10 (P value)",{size:29,rot:-90,w:197});

/* ---------- PANEL D ---------- */
{
 const x=d3.scaleBand().domain(orderD).range([941,1214.6]),y=d3.scaleBand().domain(rowsD).range([96.4,369]);
 const g=svg.append("g").attr("shape-rendering","crispEdges");
 rowsD.forEach((r,i)=>orderD.forEach((c,j)=>g.append("rect").attr("x",x(c)).attr("y",y(r)).attr("width",x.bandwidth()+.4).attr("height",y.bandwidth()+.4).attr("fill",corr(corrD[i][j]))));
 const red=new Set(["Wnt","Cell Cycle"]);
 const yl=d3.scalePoint().domain(rowsD).range([112,358]),xl=d3.scalePoint().domain(orderD).range([948,1194]);
 rowsD.forEach(r=>T(930,yl(r)+5.5,r,{size:15.8,anchor:"end",fill:red.has(r)?"#f00":"#000"}));
 orderD.forEach(c=>T(xl(c)-6,376,c,{size:15.8,rot:90,fill:red.has(c)?"#f00":"#000"}));
 tree(treeD,i=>x(orderD[i])+x.bandwidth()/2,d3.scaleLinear().domain([0,83.3]).range([93,9.7]),"top","#333",1.6);
 const grad=svg.append("defs").append("linearGradient").attr("id","ck");
 [-1,-.5,0,.5,1].forEach(v=>grad.append("stop").attr("offset",(v+1)*50+"%").attr("stop-color",corr(v)));
 R(1219,37,89,50,"url(#ck)");
 svg.append("path").attr("d","M1219 37H1308V87H1219Z").attr("fill","none").attr("stroke","#222").attr("stroke-width",1);
 const ax=d3.scaleLinear().domain([-1,1]).range([1219,1308]);
 const a=svg.append("g").attr("transform","translate(0,87)").call(d3.axisBottom(ax).tickValues([-1,-.5,0,.5,1]).tickSize(11).tickFormat(""));
 a.selectAll("line,path").attr("stroke","#000").attr("stroke-width",2);
 T(1223,30,"Color Key.",{size:18,w:80});
 [[1221,"1"],[1263.5,"0"],[1307,"1"]].forEach(d=>T(d[0],123,d[1],{size:17,anchor:"middle"}));
}
/* ---------- PANEL E ---------- */
{
 const x=d3.scaleBand().domain(colsE).range([1406,1657]),y=d3.scaleBand().domain(d3.range(12)).range([91,351]);
 const g=svg.append("g").attr("shape-rendering","crispEdges");
 scoreE.forEach((r,i)=>r.forEach((v,j)=>g.append("rect").attr("x",x(colsE[j])).attr("y",y(i)).attr("width",x.bandwidth()+.4).attr("height",y.bandwidth()+.4).attr("fill",div(v))));
 const tc={RV_Normoxia:"#87ceeb",RV_Hypoxia:"#00008b",LV_Normoxia:"#ff80ff",LV_Hypoxia:"#a020f0"};
 treatmentE.forEach((t,i)=>g.append("rect").attr("x",1660).attr("y",y(i)).attr("width",14).attr("height",y.bandwidth()+.4).attr("fill",tc[t]));
 colsE.forEach(c=>T(x(c)+x.bandwidth()/2-5,357,c,{size:15.8,rot:90,w:c==="Misregulation In Cancer"?165:null}));
 T(1660,357,"Ventricle _Treatment",{size:15.8,rot:90,w:141});
 tree(treeEcol,i=>x(colsE[i])+x.bandwidth()/2,d3.scaleLinear().domain([0,71.6]).range([89.5,17.9]),"top","#666",1.3);
 tree(treeErow,i=>y(i)+y.bandwidth()/2,d3.scaleLinear().domain([0,73]).range([1675.4,1748.4]),"right","#777",1.3);
 T(1713.5,27,"Ventricle _Treatment",{size:15.5,w:146});
 const lf=["#5b9bd5","#2f5597","#ff66cc","#9900ff"],ly=[40.6,62,84.7,108.8],lb=[51,73.7,97.5,120.5],lw=[98,87,95,83];
 treatmentOrder.forEach((t,i)=>{R(1755,ly[i],26,13.2,lf[i],"#111",2);T(1792,lb[i],t,{size:15.5,w:lw[i]});});
}
/* ---------- WNT TITLE ---------- */
T(1209,570,"Wnt Pathway",{size:31.5,w:185});
svg.append("line").attr("x1",1209).attr("x2",1394).attr("y1",575).attr("y2",575).attr("stroke","#000").attr("stroke-width",1.6);

/* ---------- PANEL F ---------- */
const SQ=6.8;
function sq(g,x,y,d){g.append("rect").attr("x",x(d[0])-SQ/2).attr("y",y(d[1])-SQ/2).attr("width",SQ).attr("height",SQ).attr("fill","#f00");}
function volcano(o){
 const x=d3.scaleLinear().domain(o.xt).range(o.xr),y=d3.scaleLinear().domain(o.yd).range(o.yr);
 const g=svg.append("g");
 o.mrna.forEach(d=>g.append("circle").attr("cx",x(d[0])).attr("cy",y(d[1])).attr("r",1.5).attr("fill","#fff").attr("fill-opacity",.4).attr("stroke","#72827f").attr("stroke-width",.9));
 (o.sig||[]).forEach(d=>g.append("circle").attr("cx",x(d[0])).attr("cy",y(d[1])).attr("r",2).attr("fill","#5f6b6b"));
 return {x,y,g,fin(){
   o.probe.forEach(d=>sq(g,x,y,d));
   const ax=svg.append("g").attr("transform",`translate(0,${o.b})`).call(d3.axisBottom(x).tickValues(o.xt).tickSize(0).tickPadding(o.xp).tickFormat(d3.format(".1f")));
   ax.select(".domain").remove();ax.selectAll("text").attr("font-size",19).attr("font-family",'"Liberation Sans"');
   const ay=svg.append("g").attr("transform",`translate(${o.l},0)`).call(d3.axisLeft(y).tickValues(o.yt).tickSize(0).tickPadding(8).tickFormat(o.yf));
   ay.select(".domain").remove();ay.selectAll("text").attr("font-size",18).attr("font-family",'"Liberation Sans"');
   R(o.l,o.t,o.r-o.l,o.b-o.t,"none","#222",2);
 }};
}
{
 const v=volcano({l:880.9,r:1271.7,t:621.3,b:1008,xt:[-1,-.5,0,.5,1,1.5,1.6],xr:[906.7,971.4,1037.9,1097.1,1146,1197.7,1245.9],yd:[0,6],yr:[991.7,654],yt:[0,1,2,3,4,5,6],yf:d3.format("d"),xp:11,mrna:f1mRNA,sig:f1Sig,probe:f1Probe});
 const dashes=["","6 4","1.6 2","7 2 1.5 2"];
 adjLevels.forEach((a,i)=>svg.append("line").attr("x1",882).attr("x2",1260).attr("y1",v.y(a)).attr("y2",v.y(a)).attr("stroke","#555").attr("stroke-width",1.4).attr("stroke-dasharray",dashes[i]));
 v.fin();
 [["Wif1",1216.6,641,36],["Wnt5a",1127,683,52],["Sfrp2",1083,708,44],["Wnt11",1108.8,730.7,52],["Cul1",1042.7,757,35],["Bambi",1169,777,49],["Sfrp1",1158.7,796.7,43],["Gpc4",1053,846,43],["Fzd7",1081.6,876,39],["Mapk10",961,882.7,64]].forEach(d=>{
   R(d[1]-2,d[2]-14,d[3]+4,17,"#fff");T(d[1],d[2],d[0],{size:17.5,w:d[3]});});
 const gt=svg.append("g");f1Probe.slice(0,10).forEach(d=>sq(gt,v.x,v.y,d));
 T(973,607,"(RV vs LV) Normoxia",{size:21,w:195});
 T(973,1070,"-log2 (Fold    Change)",{size:25,w:238});
 T(836,900,"-log10 (P value)",{size:29,rot:-90,w:198});
}
{
 const v=volcano({l:1325.5,r:1706,t:625,b:1005.3,xt:[-1,-.5,0,.5,1,1.5],xr:[1362.4,1427.4,1489.4,1547.5,1601.3,1654.6],yd:[0,3],yr:[989,651.7],yt:[0,.5,1,1.5,2,2.5,3],yf:d3.format(".1f"),xp:14,mrna:f2mRNA,probe:f2Probe});
 v.fin();
 svg.append("path").attr("d","M1706 625V1006.5H1330").attr("fill","none").attr("stroke","#333").attr("stroke-width",2.6);
 [["Wif1",1645,646,37],["Wnt5a",1571.4,688.3,53],["Sfrp2",1548,707.7,45],["Wnt11",1525,740.3,52],["Bambi",1537,768.7,50]].forEach(d=>T(d[1],d[2],d[0],{size:17.5,w:d[3]}));
 T(1416,610.7,"(RV vs LV) Hypoxia",{size:21,w:180});
 T(1417.4,1066.7,"-log2 (Fold Change)",{size:25,w:219});
 svg.append("circle").attr("cx",1731).attr("cy",656).attr("r",6.8).attr("fill","#ccc").attr("stroke","#666").attr("stroke-width",1.2);
 T(1753.5,663,"mRNA",{size:19,w:56});
 R(1724,668,14.3,14.7,"#f00");
 T(1753.5,686,"Probe Set",{size:19,w:85});
 const d2=["","10 6","2 2","12 5 3 5"],ly=[721.7,746.7,772.7,795.7],lx=[1804.3,1806.4,1806.4,1806.4],lb=[722,750,780,807];
 adjLabels.forEach((a,i)=>{
   svg.append("line").attr("x1",1716.7).attr("x2",1792.6).attr("y1",ly[i]).attr("y2",ly[i]).attr("stroke","#111").attr("stroke-width",2.4).attr("stroke-dasharray",d2[i]);
   T(lx[i],lb[i],"Adj. P Value  "+a,{size:14.5,w:135});});
}
/* ---------- PANEL G ---------- */
function slope(o){
 const y=d3.scaleLinear().domain([0,1]).range([o.y0,o.y0-o.unit]);
 const x=d3.scalePoint().domain([0,1]).range(o.xr);
 const gen=d3.line().x((d,i)=>x(i)).y(d=>y(d));
 pathways.forEach((p,i)=>svg.append("path").attr("d",gen([o.v0[i],o.v1[i]])).attr("fill","none").attr("stroke",lineColors[i]).attr("stroke-width",lineWidths[i]).attr("stroke-dasharray",lineDashes[i]));
 pathways.forEach((p,i)=>[o.v0[i],o.v1[i]].forEach((v,k)=>svg.append("circle").attr("cx",x(k)).attr("cy",y(v)).attr("r",2.2).attr("fill","#fff").attr("stroke","#111").attr("stroke-width",1.1)));
 R(o.l,o.t,o.r-o.l,o.b-o.t,"none","#111",2);
 const ay=svg.append("g").attr("transform",`translate(${o.l-2},0)`).call(d3.axisLeft(y).tickValues(o.yt).tickSize(5.5).tickPadding(7).tickFormat((d,i)=>o.yl[i]));
 ay.select(".domain").remove();ay.selectAll("line").attr("stroke","#111");ay.selectAll("text").attr("font-size",19).attr("font-family",'"Liberation Sans"');
 const ax=svg.append("g").attr("transform",`translate(0,${o.b})`).call(d3.axisBottom(x).tickSize(7).tickFormat(""));
 ax.select(".domain").remove();ax.selectAll("line").attr("stroke","#111").attr("stroke-width",1.2);
}
slope({l:893,r:1272.7,t:1144,b:1523.3,y0:1333.3,unit:56.17,xr:[956,1203.3],v0:rvNormoxia,v1:rvHypoxia,yt:[3,2,1,0,-1,-2,-3],yl:["3","2","1","0","-1","-2","-3"]});
slope({l:1336.8,r:1715.9,t:1140,b:1525.7,y0:1359.3,unit:105.43,xr:[1396.7,1654.8],v0:lvNormoxia,v1:lvHypoxia,yt:[2,1.5,1,.5,0,-.5,-1,-1.5],yl:["0.5","1.5","1","0.5","0","-0.5","-1","-1.5"]});
T(849.3,1428,"Pathway Score",{size:28,rot:-90,w:187});
T(910,1557.7,"RV_ Normoxia",{size:24,w:158});T(1131,1557.7,"RV_ Hypoxia",{size:24,w:141});
T(914,1179,"Wnt",{size:20,w:38});T(1152.7,1234.3,"Cell cycle",{size:20,w:89});
T(1352.6,1557.7,"LV_ Normoxia",{size:24,w:153});T(1575.7,1557.7,"LV_ Hypoxia",{size:24,w:136});
T(1346,1312.3,"Wnt",{size:23,w:38});T(1616.7,1183.3,"Cell cycle",{size:23,w:88.5});
pathways.forEach((p,i)=>{
 const yy=1162+19*i;
 svg.append("line").attr("x1",1731).attr("x2",1768.5).attr("y1",yy).attr("y2",yy).attr("stroke",lineColors[i]).attr("stroke-width",2.4).attr("stroke-dasharray",lineDashes[i]);
 T(1779,yy+6,p,{size:16,w:p==="Misregulation in Cancer"?165:null});
});
</script></body></html>
